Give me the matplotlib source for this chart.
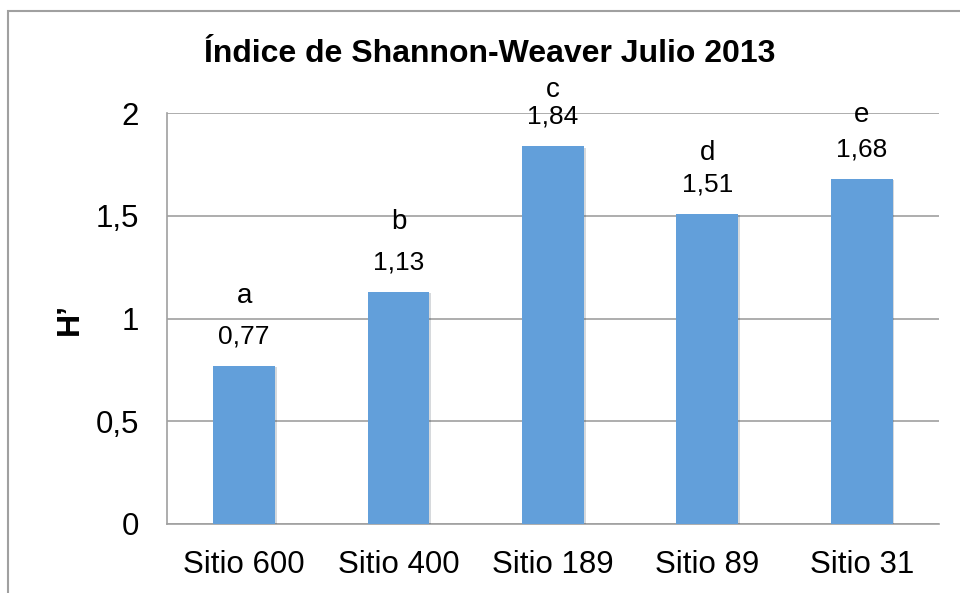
import numpy as np
import matplotlib
matplotlib.use("Agg")
import matplotlib.pyplot as plt
import matplotlib.patheffects as pe
from matplotlib.patches import Rectangle

plt.rcParams['font.family'] = ['Liberation Sans', 'DejaVu Sans']

sitios = ['Sitio 600', 'Sitio 400', 'Sitio 189', 'Sitio 89', 'Sitio 31']
indice_h = [0.77, 1.13, 1.84, 1.51, 1.68]
letras = ['a', 'b', 'c', 'd', 'e']
y_ticks = [0, 0.5, 1, 1.5, 2]
y_tick_labels = ['0', '0,5', '1', '1,5', '2']

# letters were placed by hand in the original, so each has its own lift (points)
letra_offsets = [50, 50, 40, 44, 46]

fig = plt.figure(figsize=(9.6, 5.93), dpi=100)
ax = fig.add_axes([0.174, 0.1164, 0.804, 0.693])

x = np.arange(len(sitios))
bars = ax.bar(x, indice_h, width=0.4, color='#629FDA', zorder=3)
for b in bars:
    b.set_path_effects([pe.SimplePatchShadow(offset=(1.2, -1.2), alpha=0.18), pe.Normal()])

for xi, val, let, off in zip(x, indice_h, letras, letra_offsets):
    ax.annotate(f'{val:.2f}'.replace('.', ','), (xi, val), xytext=(0, 21),
                textcoords='offset points', ha='center', va='center', fontsize=19, zorder=4)
    ax.annotate(let, (xi, val), xytext=(0, off),
                textcoords='offset points', ha='center', va='center', fontsize=20, zorder=4)

ax.set_xlim(-0.5, len(sitios) - 0.5)
ax.set_ylim(0, 2)
ax.set_yticks(y_ticks)
ax.set_yticklabels(y_tick_labels)
ax.set_xticks(x)
ax.set_xticklabels(sitios)
ax.tick_params(axis='both', length=0, labelsize=22.5)
ax.tick_params(axis='y', pad=20)
ax.tick_params(axis='x', pad=19)
ax.yaxis.grid(True, color='#A0A0A0', linewidth=1.2, zorder=0)
ax.set_axisbelow(True)
for s in ['top', 'right']:
    ax.spines[s].set_visible(False)
for s in ['left', 'bottom']:
    ax.spines[s].set_color('#A0A0A0')
    ax.spines[s].set_linewidth(1.2)

ax.set_ylabel('H’', fontsize=23, fontweight='bold', labelpad=8)
fig.text(0.51, 0.909, 'Índice de Shannon-Weaver Julio 2013', ha='center', va='center',
         fontsize=23, fontweight='bold')

# chart area border (cut off at right and bottom like the original)
fig.add_artist(Rectangle((8 / 960, -0.1), 1.2, 1.1 - 11 / 593, transform=fig.transFigure,
                         fill=False, edgecolor='#A0A0A0', linewidth=1.5))

fig.savefig('out.png', dpi=100)
